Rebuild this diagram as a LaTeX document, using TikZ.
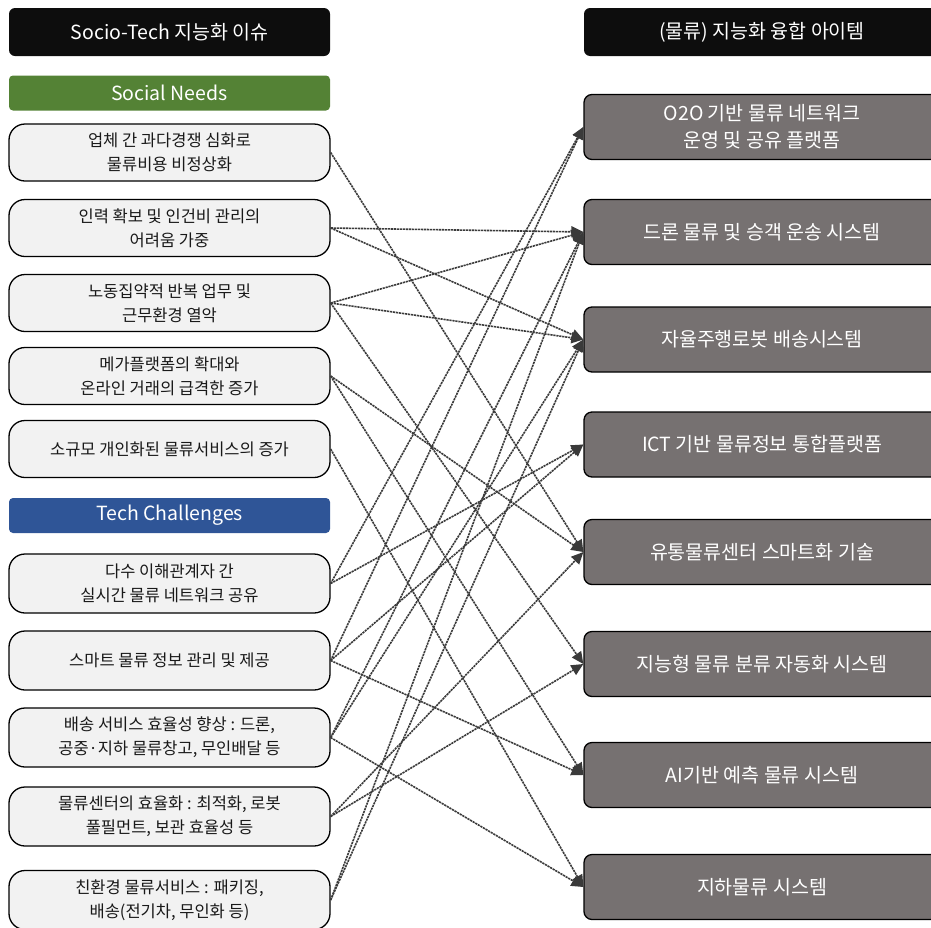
\documentclass[tikz,border=0pt]{standalone}
\usepackage{fontspec}
\setmainfont{Noto Sans CJK KR}
\usetikzlibrary{arrows.meta, positioning}

\definecolor{needgreen}{HTML}{548235}
\definecolor{techblue}{HTML}{2F5597}
\definecolor{itemgray}{HTML}{767171}
\definecolor{issuefill}{HTML}{F2F2F2}
\definecolor{linkgray}{HTML}{3A3A3A}

\begin{document}
\begin{tikzpicture}[
		x=1pt, y=-1pt,
		title/.style={fill=black!95, text=white, rounded corners=6pt, minimum height=48pt, inner sep=0pt,
			font=\fontsize{19.5}{24}\selectfont},
		group/.style={text=white, rounded corners=4pt, minimum width=321pt, minimum height=35pt, inner sep=0pt,
			font=\fontsize{19.5}{24}\selectfont},
		issue/.style={draw=black, line width=1.3pt, fill=issuefill, text=black!90, rounded corners=16pt,
			minimum width=321pt, align=center, inner sep=0pt, font=\fontsize{16.5}{24}\selectfont},
		item/.style={draw=black, line width=1.3pt, fill=itemgray, text=white, rounded corners=8pt,
			minimum width=356pt, minimum height=65pt, align=center, inner sep=0pt, font=\fontsize{19.5}{27}\selectfont},
		link/.style={-{Triangle[length=12pt, width=11pt]}, line width=1.6pt, linkgray, dash pattern=on 2.2pt off 0.8pt}
		]
		\clip (0,0) rectangle (931,927);
		
		% Left: issues
		\node[title, minimum width=321pt] (issues) at (169.5,32) {Socio-Tech 지능화 이슈};
		\node[group, fill=needgreen] (needs) at (169.5,93) {Social Needs};
		\node[issue, minimum height=57pt] (L1) at (169.5,152.5) {업체 간 과다경쟁 심화로\\물류비용 비정상화};
		\node[issue, minimum height=57pt] (L2) at (169.5,228) {인력 확보 및 인건비 관리의\\어려움 가중};
		\node[issue, minimum height=57pt] (L3) at (169.5,303) {노동집약적 반복 업무 및\\근무환경 열악};
		\node[issue, minimum height=57pt] (L4) at (169.5,376) {메가플랫폼의 확대와\\온라인 거래의 급격한 증가};
		\node[issue, minimum height=57pt] (L5) at (169.5,449) {소규모 개인화된 물류서비스의 증가};
		
		\node[group, fill=techblue] (challenges) at (169.5,515.5) {Tech Challenges};
		\node[issue, minimum height=59pt] (T1) at (169.5,583.5) {다수 이해관계자 간\\실시간 물류 네트워크 공유};
		\node[issue, minimum height=59pt] (T2) at (169.5,660.5) {스마트 물류 정보 관리 및 제공};
		\node[issue, minimum height=59pt] (T3) at (169.5,737.5) {배송 서비스 효율성 향상 : 드론,\\공중·지하 물류창고, 무인배달 등};
		\node[issue, minimum height=59pt] (T4) at (169.5,816.5) {물류센터의 효율화 : 최적화, 로봇\\풀필먼트, 보관 효율성 등};
		\node[issue, minimum height=59pt] (T5) at (169.5,900) {친환경 물류서비스 : 패키징,\\배송(전기차, 무인화 등)};
		
		% Right: items
		\node[title, minimum width=356pt] (items) at (762,32) {(물류) 지능화 융합 아이템};
		\node[item] (R1) at (762,127) {O2O 기반 물류 네트워크\\운영 및 공유 플랫폼};
		\node[item] (R2) at (762,232) {드론 물류 및 승객 운송 시스템};
		\node[item] (R3) at (762,339.5) {자율주행로봇 배송시스템};
		\node[item] (R4) at (762,444.5) {ICT 기반 물류정보 통합플랫폼};
		\node[item] (R5) at (762,552) {유통물류센터 스마트화 기술};
		\node[item] (R6) at (762,664) {지능형 물류 분류 자동화 시스템};
		\node[item] (R7) at (762,775) {AI기반 예측 물류 시스템};
		\node[item] (R8) at (762,887) {지하물류 시스템};
		
		% Social needs -> items
		\draw[link] (L1.east) -- (R5.west);
		\draw[link] (L2.east) -- (R2.west);
		\draw[link] (L2.east) -- (R3.west);
		\draw[link] (L3.east) -- (R2.west);
		\draw[link] (L3.east) -- (R3.west);
		\draw[link] (L3.east) -- (R6.west);
		\draw[link] (L4.east) -- (R5.west);
		\draw[link] (L4.east) -- (R7.west);
		\draw[link] (L5.east) -- (R8.west);
		
		% Tech challenges -> items
		\draw[link] (T1.east) -- (R1.west);
		\draw[link] (T1.east) -- (R4.west);
		\draw[link] (T2.east) -- (R1.west);
		\draw[link] (T2.east) -- (R4.west);
		\draw[link] (T2.east) -- (R7.west);
		\draw[link] (T3.east) -- (R2.west);
		\draw[link] (T3.east) -- (R3.west);
		\draw[link] (T3.east) -- (R8.west);
		\draw[link] (T4.east) -- (R5.west);
		\draw[link] (T4.east) -- (R6.west);
		\draw[link] (T5.east) -- (R2.west);
		\draw[link] (T5.east) -- (R3.west);
		
	\end{tikzpicture}
\end{document}
